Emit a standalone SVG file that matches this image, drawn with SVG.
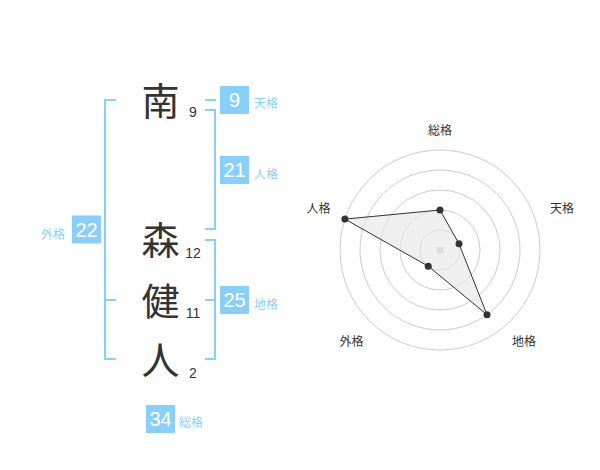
<svg xmlns="http://www.w3.org/2000/svg" width="600" height="470" viewBox="0 0 600 470">
<style>
.ch{font-family:"Noto Sans CJK JP",sans-serif;font-size:38px;fill:#333;text-anchor:middle}
.num{font-family:"Liberation Sans","Noto Sans CJK JP",sans-serif;font-size:14px;fill:#333;text-anchor:middle}
.br{fill:none;stroke:#88d0fb;stroke-width:2}
.box{fill:#88d0fb}
.bt{font-family:"Liberation Sans",sans-serif;font-size:20px;fill:#fff;text-anchor:middle}
.lb{font-family:"Noto Sans CJK JP",sans-serif;font-size:12px;fill:#88d0fb}
.rl{font-family:"Noto Sans CJK JP",sans-serif;font-size:12px;fill:#333;text-anchor:middle}
.ring{fill:none;stroke:#cccccc;stroke-width:1}
.pt{fill:#333}
</style>
<rect width="600" height="470" fill="#fff"/>
<g id="chars">
<text class="ch" x="160.5" y="115">南</text>
<text class="ch" x="160.5" y="254">森</text>
<text class="ch" x="160.5" y="315">健</text>
<text class="ch" x="160.5" y="374">人</text>
<text class="num" x="193" y="117">9</text>
<text class="num" x="193" y="258">12</text>
<text class="num" x="193" y="318">11</text>
<text class="num" x="193" y="378">2</text>
</g>
<g id="connectors">
<polyline class="br" points="116,100 105,100 105,359 116,359"/>
<line class="br" x1="105" y1="300" x2="116" y2="300"/>
<line class="br" x1="205" y1="100" x2="216" y2="100"/>
<polyline class="br" points="205,110 215,110 215,229 205,229"/>
<polyline class="br" points="205,240 215,240 215,359 205,359"/>
<line class="br" x1="205" y1="300" x2="215" y2="300"/>
</g>
<g id="tenkaku">
<rect class="box" x="220" y="86" width="29" height="28"/>
<text class="bt" x="234.5" y="107">9</text>
<text class="lb" x="254" y="107.5">天格</text>
</g>
<g id="jinkaku">
<rect class="box" x="220" y="156" width="29" height="28"/>
<text class="bt" x="234.5" y="177">21</text>
<text class="lb" x="254" y="178.5">人格</text>
</g>
<g id="chikaku">
<rect class="box" x="220" y="286" width="29" height="28"/>
<text class="bt" x="234.5" y="307">25</text>
<text class="lb" x="254" y="308.5">地格</text>
</g>
<g id="gaikaku">
<rect class="box" x="72" y="215.5" width="29" height="28"/>
<text class="bt" x="86.5" y="236.5">22</text>
<text class="lb" x="41" y="238.5">外格</text>
</g>
<g id="soukaku">
<rect class="box" x="146" y="405" width="29" height="28"/>
<text class="bt" x="160.5" y="426">34</text>
<text class="lb" x="179" y="426.5">総格</text>
</g>
<g id="radar">
<circle class="ring" cx="440" cy="250" r="20"/>
<circle class="ring" cx="440" cy="250" r="40"/>
<circle class="ring" cx="440" cy="250" r="60"/>
<circle class="ring" cx="440" cy="250" r="80"/>
<circle class="ring" cx="440" cy="250" r="100"/>
<circle cx="440" cy="250" r="3.5" fill="#cccccc"/>
<polygon points="440,210 459.02,243.82 487.02,314.72 428.24,266.18 344.89,219.1" fill="#e6e6e6" fill-opacity="0.6" stroke="#333" stroke-width="1"/>
<circle class="pt" cx="440" cy="210" r="3.5"/>
<circle class="pt" cx="459.02" cy="243.82" r="3.5"/>
<circle class="pt" cx="487.02" cy="314.72" r="3.5"/>
<circle class="pt" cx="428.24" cy="266.18" r="3.5"/>
<circle class="pt" cx="344.89" cy="219.1" r="3.5"/>
<text class="rl" x="440" y="134.5">総格</text>
<text class="rl" x="562" y="212.5">天格</text>
<text class="rl" x="318.5" y="212.5">人格</text>
<text class="rl" x="351.5" y="346">外格</text>
<text class="rl" x="524" y="346">地格</text>
</g>
</svg>
